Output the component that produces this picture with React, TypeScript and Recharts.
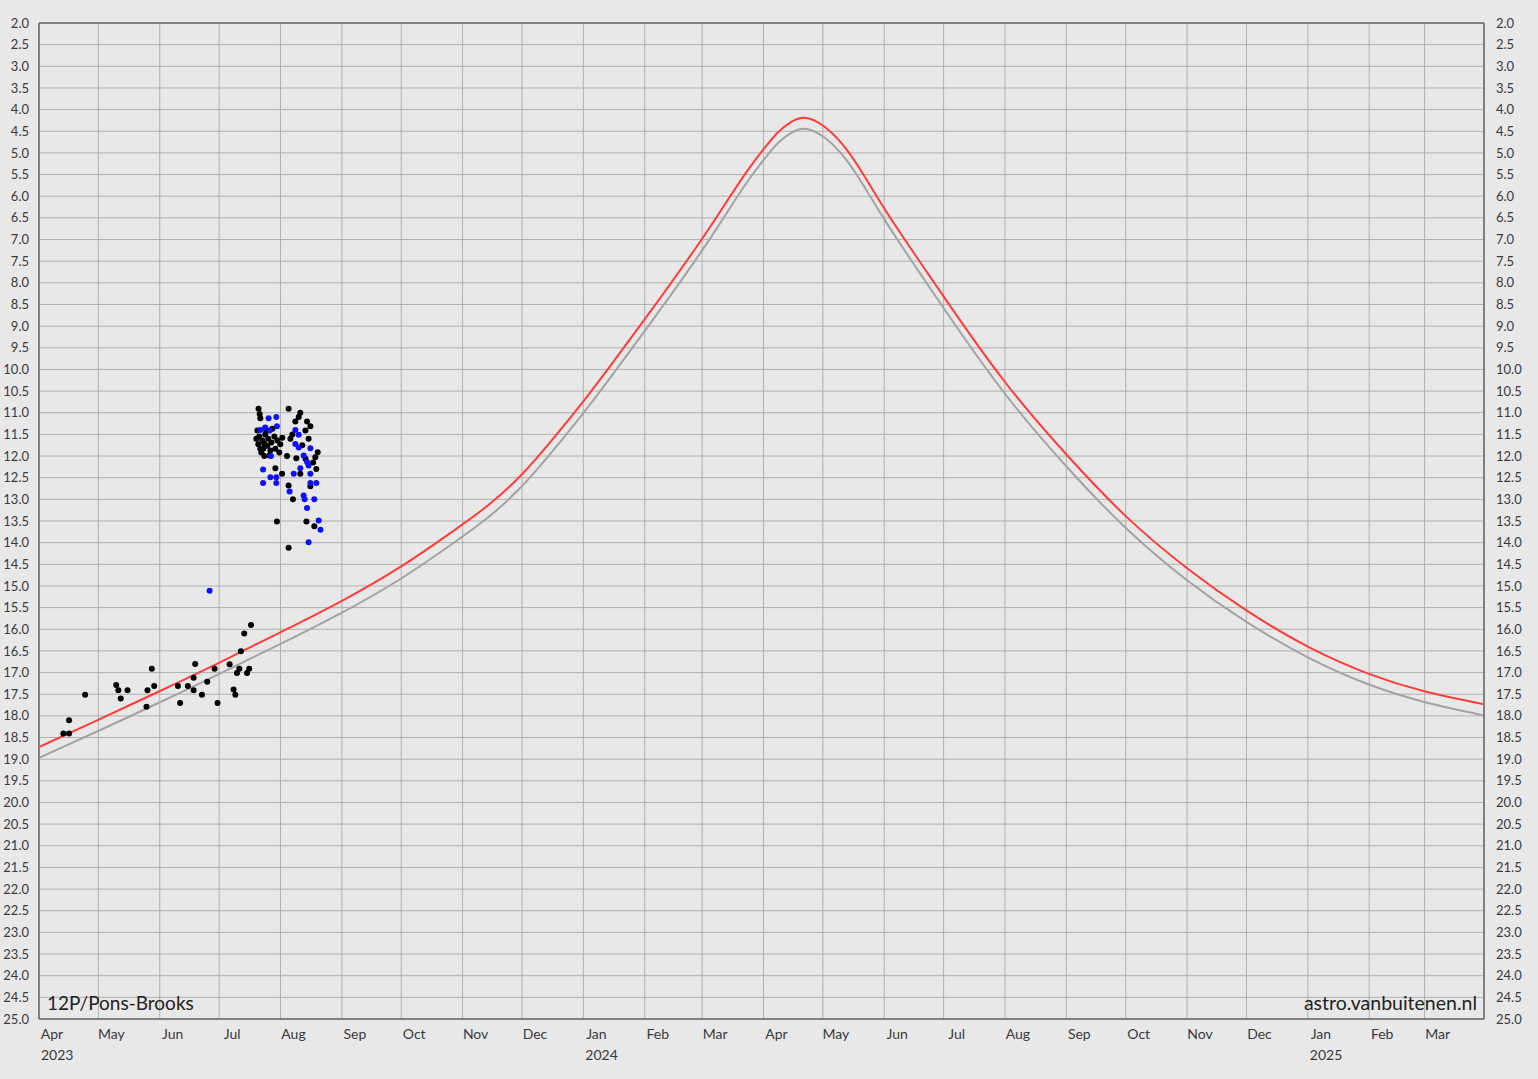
import React from 'react';
import { ComposedChart, Line, Scatter, XAxis, YAxis, CartesianGrid, ReferenceLine } from 'recharts';

// Light curve dates and predicted magnitudes (red and gray curves)
const curveDates = [
  '2023-04-01', '2023-05-01', '2023-06-01', '2023-07-01', '2023-08-01', '2023-09-01',
  '2023-10-01', '2023-11-01', '2023-11-15', '2023-12-01', '2023-12-15', '2024-01-01',
  '2024-01-15', '2024-02-01', '2024-03-01', '2024-03-14', '2024-03-24', '2024-04-01',
  '2024-04-09', '2024-04-14', '2024-04-21', '2024-05-02', '2024-05-13', '2024-05-22',
  '2024-06-01', '2024-06-17', '2024-07-01', '2024-08-01', '2024-09-01', '2024-10-01',
  '2024-11-01', '2024-12-01', '2025-01-01', '2025-02-01', '2025-03-01', '2025-03-31',
];
const redMag = [
  18.72, 18.09, 17.43, 16.78, 16.07, 15.36,
  14.58, 13.58, 13.12, 12.45, 11.70, 10.75,
  9.90, 8.85, 7.01, 6.08, 5.39, 4.91,
  4.47, 4.31, 4.12, 4.35, 4.88, 5.53,
  6.30, 7.38, 8.32, 10.36, 11.98, 13.44,
  14.62, 15.59, 16.44, 17.06, 17.46, 17.73,
];
const grayMag = [
  18.97, 18.35, 17.69, 17.04, 16.34, 15.63,
  14.86, 13.86, 13.40, 12.72, 11.97, 11.02,
  10.17, 9.12, 7.28, 6.34, 5.64, 5.16,
  4.72, 4.56, 4.37, 4.60, 5.13, 5.78,
  6.55, 7.64, 8.59, 10.63, 12.26, 13.71,
  14.90, 15.86, 16.68, 17.31, 17.70, 17.99,
];

// Observations: [days since 2023-04-01, magnitude]
const blackObs: [number, number][] = [
  [12.3, 18.41], [15.2, 18.41], [15.2, 18.10], [23.3, 17.51], [39.0, 17.29], [40.1, 17.41],
  [41.3, 17.60], [44.7, 17.41], [54.3, 17.79], [54.8, 17.41], [57.0, 16.91], [58.2, 17.31],
  [70.2, 17.31], [71.3, 17.70], [75.2, 17.31], [78.1, 17.41], [78.1, 17.12], [78.9, 16.80],
  [82.3, 17.51], [85.0, 17.21], [88.7, 16.91], [90.2, 17.70], [96.3, 16.81], [98.3, 17.39],
  [99.2, 17.51], [100.0, 17.01], [101.2, 16.91], [102.0, 16.51], [105.1, 17.01], [106.2, 16.91],
  [103.7, 16.10], [107.1, 15.90],
  [110.9, 10.91], [111.5, 11.03], [111.8, 11.13], [126.1, 10.91], [132.0, 11.00], [131.2, 11.10],
  [129.5, 11.20], [135.4, 11.20], [137.1, 11.31], [134.6, 11.41], [136.2, 11.60], [127.0, 11.60],
  [125.3, 12.00], [140.8, 11.91], [139.6, 12.03], [134.6, 12.06], [119.4, 12.28], [122.8, 12.41],
  [132.0, 12.41], [140.1, 12.30], [126.1, 12.68], [137.1, 12.70], [128.3, 13.00], [120.2, 13.51],
  [135.1, 13.51], [139.1, 13.62], [126.1, 14.12], [113.8, 12.00], [111.8, 11.83],
  [110.3, 11.41], [111.3, 11.55], [112.8, 11.64], [114.3, 11.50], [115.8, 11.60], [117.4, 11.69],
  [118.9, 11.55], [120.4, 11.64], [121.9, 11.73], [110.8, 11.73], [113.3, 11.83], [115.3, 11.76],
  [116.9, 11.87], [119.4, 11.83], [121.4, 11.92], [112.3, 11.92], [114.8, 11.41], [117.9, 11.37],
  [116.4, 11.99], [122.9, 11.58], [109.8, 11.60], [113.8, 11.71], [128.0, 11.50], [133.0, 11.75],
  [138.5, 12.15], [130.0, 12.05],
];
const blueObs: [number, number][] = [
  [86.2, 15.11],
  [116.0, 11.13], [119.9, 11.10], [120.2, 11.31], [111.8, 11.40], [114.3, 11.34], [116.5, 11.41],
  [129.5, 11.40], [131.2, 11.51], [129.5, 11.72], [131.2, 11.80], [137.1, 11.82], [133.7, 11.99],
  [135.4, 12.14], [136.2, 12.22], [132.0, 12.28], [128.7, 12.41], [137.1, 12.41], [113.2, 12.31],
  [113.2, 12.62], [116.9, 12.49], [119.9, 12.49], [119.9, 12.62], [126.6, 12.82], [137.1, 12.62],
  [140.1, 12.62], [133.7, 12.91], [134.2, 13.00], [139.1, 13.00], [135.4, 13.20], [141.3, 13.49],
  [142.2, 13.70], [136.2, 13.99], [117.2, 12.00],
];

// Axis ticks
const monthTickDates = [
  '2023-04-01', '2023-05-01', '2023-06-01', '2023-07-01', '2023-08-01', '2023-09-01',
  '2023-10-01', '2023-11-01', '2023-12-01', '2024-01-01', '2024-02-01', '2024-03-01',
  '2024-04-01', '2024-05-01', '2024-06-01', '2024-07-01', '2024-08-01', '2024-09-01',
  '2024-10-01', '2024-11-01', '2024-12-01', '2025-01-01', '2025-02-01', '2025-03-01',
];
const monthNames = ['Jan', 'Feb', 'Mar', 'Apr', 'May', 'Jun', 'Jul', 'Aug', 'Sep', 'Oct', 'Nov', 'Dec'];
const magTicks: number[] = [];
for (let v = 2; v <= 25.001; v += 0.5) magTicks.push(Math.round(v * 10) / 10);

const START = Date.UTC(2023, 3, 1);
const DAY = 86400000;
const dayOf = (s: string) => (Date.parse(s + 'T00:00:00Z') - START) / DAY;

const redData = curveDates.map((d, i) => ({ x: dayOf(d), y: redMag[i] }));
const grayData = curveDates.map((d, i) => ({ x: dayOf(d), y: grayMag[i] }));
const blackData = blackObs.map(([x, y]) => ({ x, y }));
const blueData = blueObs.map(([x, y]) => ({ x, y }));
const xTicks = monthTickDates.map(dayOf);

const FONT = 'Lato, "Open Sans", sans-serif';
const TEXT = '#3a3a3a';
const BORDER = '#7f7f7f';

function MonthTick(props: any) {
  const { x, y, payload } = props;
  const d = new Date(START + payload.value * DAY);
  const m = d.getUTCMonth();
  const showYear = m === 0 || payload.value === 0;
  return (
    <g>
      <text x={x + 13} y={y + 20} textAnchor="middle" fontSize={14} fontFamily={FONT} fill={TEXT}>
        {monthNames[m]}
      </text>
      {showYear && (
        <text x={x + 2} y={y + 41} textAnchor="start" fontSize={14} fontFamily={FONT} fill={TEXT}>
          {d.getUTCFullYear()}
        </text>
      )}
    </g>
  );
}

const dot = (color: string) => (p: any) => <circle cx={p.cx} cy={p.cy} r={3} fill={color} />;

export default function App() {
  return (
    <div style={{ position: 'absolute', left: 0, top: 0, width: 1538, height: 1079, background: '#e8e8e8' }}>
      <ComposedChart width={1538} height={1079} margin={{ top: 23, right: 0, left: 0, bottom: 0 }}>
        <CartesianGrid yAxisId="left" stroke="#b0b0b0" strokeWidth={1} />
        <XAxis
          dataKey="x"
          type="number"
          domain={[0, 730]}
          ticks={xTicks}
          interval={0}
          height={60}
          tickLine={false}
          tickSize={0}
          tickMargin={0}
          axisLine={{ stroke: BORDER, strokeWidth: 2 }}
          tick={<MonthTick />}
          allowDataOverflow
        />
        <YAxis
          yAxisId="left"
          type="number"
          domain={[2, 25]}
          reversed
          ticks={magTicks}
          interval={0}
          width={39}
          tickLine={false}
          tickSize={0}
          tickMargin={10}
          axisLine={{ stroke: BORDER, strokeWidth: 2 }}
          tick={{ fontSize: 13, fontFamily: FONT, fill: TEXT }}
          tickFormatter={(v: number) => v.toFixed(1)}
          allowDataOverflow
        />
        <YAxis
          yAxisId="right"
          orientation="right"
          type="number"
          domain={[2, 25]}
          reversed
          ticks={magTicks}
          interval={0}
          width={54}
          tickLine={false}
          tickSize={0}
          tickMargin={12}
          axisLine={{ stroke: BORDER, strokeWidth: 2 }}
          tick={{ fontSize: 13, fontFamily: FONT, fill: TEXT, textAnchor: 'start' }}
          tickFormatter={(v: number) => v.toFixed(1)}
          allowDataOverflow
        />
        <ReferenceLine yAxisId="left" y={2} stroke={BORDER} strokeWidth={2} />
        <Line yAxisId="left" data={grayData} dataKey="y" type="basis" stroke="#a3a3a3" strokeWidth={2} dot={false} isAnimationActive={false} />
        <Line yAxisId="left" data={redData} dataKey="y" type="basis" stroke="#ff3c3c" strokeWidth={2} dot={false} isAnimationActive={false} />
        <Scatter yAxisId="left" data={blackData} dataKey="y" fill="#000" shape={dot('#000')} isAnimationActive={false} />
        <Scatter yAxisId="left" data={blueData} dataKey="y" fill="#1010ff" shape={dot('#1010ff')} isAnimationActive={false} />
      </ComposedChart>
      <svg width={1538} height={1079} style={{ position: 'absolute', left: 0, top: 0, pointerEvents: 'none' }}>
        <text x={47} y={1010} fontSize={19} fontFamily={FONT} fill="#222">12P/Pons-Brooks</text>
        <text x={1477} y={1010} fontSize={19.5} fontFamily={FONT} fill="#222" textAnchor="end">astro.vanbuitenen.nl</text>
      </svg>
    </div>
  );
}
